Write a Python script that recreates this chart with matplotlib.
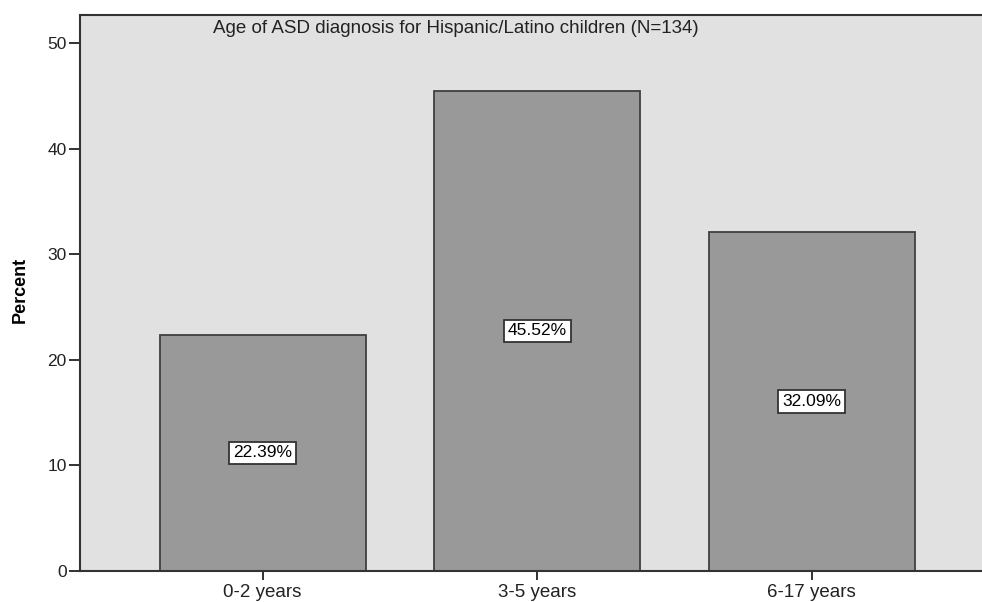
import matplotlib
matplotlib.use("Agg")
import matplotlib.pyplot as plt
from matplotlib import font_manager

categories = ["0-2 years", "3-5 years", "6-17 years"]
percents = [22.39, 45.52, 32.09]
yticks = [0, 10, 20, 30, 40, 50]
title = "Age of ASD diagnosis for Hispanic/Latino children (N=134)"

plt.rcParams['font.family'] = ['Liberation Sans', 'DejaVu Sans']

installed = {f.name for f in font_manager.fontManager.ttflist}
if 'Liberation Sans Narrow' in installed:
    ylab_family, ylab_size = ['Liberation Sans Narrow', 'DejaVu Sans'], 16
else:
    ylab_family, ylab_size = ['Liberation Sans', 'DejaVu Sans'], 13

fig = plt.figure(figsize=(9.82, 6.02), dpi=100)
ax = fig.add_axes([80/982, 31/602, 1 - 80/982, (571-15)/602])
ax.set_facecolor('#e1e1e1')

x = list(range(len(categories)))
bars = ax.bar(x, percents, width=0.75, color='#999999', edgecolor='#404040', linewidth=1.3, zorder=2)
for xi, v in zip(x, percents):
    ax.text(xi, v / 2, f"{v:.2f}%", ha='center', va='center', fontsize=12.5, color='black', zorder=3,
            bbox=dict(boxstyle='square,pad=0.22', facecolor='white', edgecolor='#333333', linewidth=1.3))

ax.set_xlim(-0.665, 2.62)
ax.set_ylim(0, 52.7)
ax.set_yticks(yticks)
ax.set_xticks(x)
ax.set_xticklabels(categories)
ax.tick_params(axis='both', colors='#222222', width=1.3, direction='out')
ax.tick_params(axis='y', labelsize=12.5, length=8, pad=1.5)
ax.tick_params(axis='x', labelsize=13.5, length=6.5, pad=3)
for s in ['left', 'bottom', 'top']:
    ax.spines[s].set_color('#333333')
    ax.spines[s].set_linewidth(1.5)
ax.spines['right'].set_visible(False)

ax.text(0.417, 0.976, title, transform=ax.transAxes, ha='center', va='center', fontsize=13.5, color='#222222')
fig.text(20/982, 1 - 290/602, "Percent", rotation=90, ha='center', va='center', fontsize=ylab_size,
         fontweight='bold', family=ylab_family, color='black')

fig.savefig("out.png", dpi=100)
